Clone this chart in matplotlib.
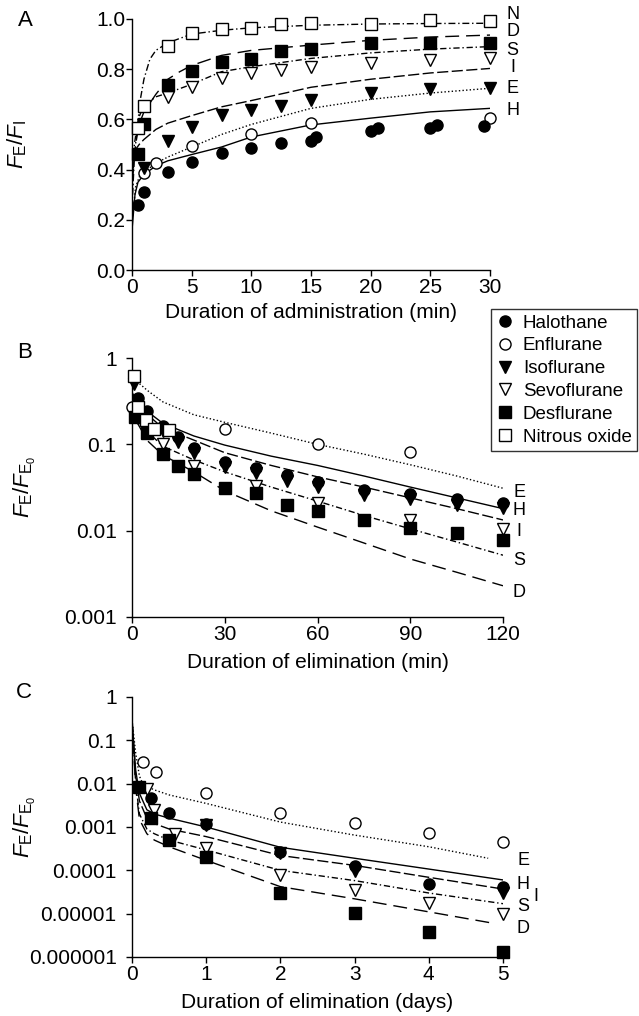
import matplotlib
matplotlib.use('Agg')
import matplotlib.pyplot as plt
from matplotlib.ticker import FixedLocator, FixedFormatter, NullLocator
from matplotlib.lines import Line2D

plt.rcParams['font.family'] = ['Liberation Sans', 'DejaVu Sans']
plt.rcParams['mathtext.fontset'] = 'custom'
plt.rcParams['mathtext.rm'] = 'Liberation Sans'
plt.rcParams['mathtext.it'] = 'Liberation Sans:italic'
plt.rcParams['mathtext.bf'] = 'Liberation Sans:bold'

# ---------------- panel A: uptake (F_E/F_I) ----------------
a_halo_x = [0.5, 1, 3, 5, 7.5, 10, 12.5, 15, 20, 25, 29.5]
a_halo_y = [0.26, 0.31, 0.39, 0.43, 0.465, 0.485, 0.505, 0.515, 0.552, 0.565, 0.574]
a_halo2_x = [15.4, 20.6, 25.6]
a_halo2_y = [0.528, 0.565, 0.578]
a_enf_x = [1, 2, 5, 10, 15, 30]
a_enf_y = [0.388, 0.428, 0.494, 0.54, 0.587, 0.604]
a_iso_x = [1, 3, 5, 7.5, 10, 12.5, 15, 20, 25, 30]
a_iso_y = [0.405, 0.514, 0.568, 0.616, 0.637, 0.653, 0.677, 0.706, 0.72, 0.724]
a_sevo_x = [3, 5, 7.5, 10, 12.5, 15, 20, 25, 30]
a_sevo_y = [0.69, 0.73, 0.763, 0.783, 0.797, 0.81, 0.826, 0.837, 0.843]
a_des_x = [0.5, 1, 3, 5, 7.5, 10, 12.5, 15, 20, 25, 30]
a_des_y = [0.462, 0.58, 0.737, 0.793, 0.83, 0.839, 0.874, 0.879, 0.903, 0.903, 0.903]
a_n2o_x = [0.5, 1, 3, 5, 7.5, 10, 12.5, 15, 20, 25, 30]
a_n2o_y = [0.565, 0.653, 0.892, 0.945, 0.959, 0.966, 0.98, 0.985, 0.982, 0.996, 0.993]

# model curves, panel A
a_fit_H_x = [0.02, 0.25, 0.5, 1, 2, 3, 5, 7.5, 10, 15, 20, 25, 30]
a_fit_H_y = [0.17, 0.3, 0.35, 0.38, 0.415, 0.435, 0.46, 0.49, 0.53, 0.578, 0.605, 0.63, 0.644]
a_fit_E_x = [0.02, 0.3, 0.6, 1, 2, 3, 5, 7.5, 10, 15, 20, 25, 30]
a_fit_E_y = [0.2, 0.33, 0.37, 0.39, 0.425, 0.45, 0.49, 0.54, 0.58, 0.644, 0.68, 0.705, 0.724]
a_fit_I_x = [0.02, 0.1, 0.3, 0.6, 1, 2, 3, 5, 7.5, 10, 15, 20, 25, 30]
a_fit_I_y = [0.35, 0.45, 0.48, 0.5, 0.52, 0.56, 0.585, 0.615, 0.65, 0.675, 0.728, 0.76, 0.785, 0.803]
a_fit_S_x = [0.02, 0.2, 0.5, 1, 2, 3, 5, 7.5, 10, 15, 20, 25, 30]
a_fit_S_y = [0.3, 0.5, 0.6, 0.655, 0.69, 0.705, 0.74, 0.79, 0.81, 0.843, 0.865, 0.88, 0.89]
a_fit_D_x = [0.02, 0.3, 0.6, 1, 2, 3, 4, 5, 7.5, 10, 15, 20, 25, 30]
a_fit_D_y = [0.35, 0.5, 0.58, 0.63, 0.7, 0.76, 0.79, 0.815, 0.855, 0.875, 0.896, 0.915, 0.928, 0.936]
a_fit_N_x = [0.05, 0.2, 0.4, 0.7, 1, 1.5, 2, 3, 5, 7.5, 10, 15, 20, 25, 30]
a_fit_N_y = [0.3, 0.45, 0.55, 0.68, 0.76, 0.84, 0.875, 0.905, 0.94, 0.955, 0.965, 0.975, 0.98, 0.982, 0.983]

# ---------------- panel B: elimination, minutes ----------------
b_halo_x = [2, 5, 10, 15, 20, 30, 40, 50, 60, 75, 90, 105, 120]
b_halo_y = [0.34, 0.245, 0.165, 0.122, 0.091, 0.063, 0.053, 0.044, 0.037, 0.0298, 0.0266, 0.0231, 0.0211]
b_enf_x = [0, 30, 60, 90]
b_enf_y = [0.27, 0.149, 0.101, 0.082]
b_iso_x = [0.5, 10, 15, 20, 30, 40, 50, 60, 75, 90, 105, 120]
b_iso_y = [0.5, 0.143, 0.106, 0.079, 0.055, 0.046, 0.038, 0.032, 0.026, 0.023, 0.020, 0.0183]
b_sevo_x = [2, 5, 10, 20, 40, 60, 90, 120]
b_sevo_y = [0.2, 0.15, 0.1, 0.056, 0.033, 0.021, 0.0133, 0.0104]
b_des_x = [1, 5, 10, 15, 20, 30, 40, 50, 60, 75, 90, 105, 120]
b_des_y = [0.21, 0.134, 0.078, 0.0566, 0.045, 0.031, 0.027, 0.020, 0.0167, 0.0132, 0.0107, 0.0095, 0.0077]
b_n2o_x = [0.5, 2, 4.5, 7, 12]
b_n2o_y = [0.62, 0.27, 0.19, 0.15, 0.145]

b_fit_x = [0, 2, 5, 10, 20, 30, 45, 60, 75, 90, 105, 120]
b_fit_E = [0.62, 0.52, 0.42, 0.31, 0.22, 0.18, 0.135, 0.1, 0.077, 0.058, 0.043, 0.031]
b_fit_H = [0.38, 0.3, 0.24, 0.175, 0.125, 0.098, 0.073, 0.057, 0.043, 0.032, 0.024, 0.018]
b_fit_I = [0.4, 0.3, 0.22, 0.155, 0.112, 0.08, 0.057, 0.042, 0.032, 0.024, 0.018, 0.0133]
b_fit_S = [0.3, 0.2, 0.14, 0.095, 0.066, 0.048, 0.032, 0.022, 0.015, 0.0105, 0.0074, 0.0052]
b_fit_D = [0.3, 0.17, 0.11, 0.075, 0.048, 0.029, 0.017, 0.011, 0.0072, 0.0047, 0.0033, 0.0023]

# ---------------- panel C: elimination, days ----------------
c_halo_x = [0.25, 0.5, 1, 2, 3, 4, 5]
c_halo_y = [0.0046, 0.00214, 0.00117, 0.00027, 0.000126, 0.0000483, 0.0000406]
c_enf_x = [0.15, 0.33, 1, 2, 3, 4, 5]
c_enf_y = [0.032, 0.0189, 0.006, 0.00214, 0.00122, 0.00074, 0.00044]
c_iso_x = [1, 2, 3, 5]
c_iso_y = [0.0011, 0.00025, 0.000095, 0.00003]
c_sevo_x = [0.2, 0.3, 0.58, 1, 2, 3, 4, 5]
c_sevo_y = [0.0074, 0.0025, 0.00068, 0.00033, 0.000078, 0.000036, 0.0000178, 0.00001]
c_des_x = [0.1, 0.25, 0.5, 1, 2, 3, 4, 5]
c_des_y = [0.0085, 0.0016, 0.0005, 0.000206, 0.00003, 0.0000102, 0.0000038, 0.0000013]

c_fit_x = [0, 0.05, 0.1, 0.2, 0.3, 0.5, 1, 2, 3, 4, 5]
c_fit_E_x = [0, 0.05, 0.1, 0.15, 0.3, 0.5, 1, 2, 3, 4, 4.8]
c_fit_E = [0.3, 0.05, 0.015, 0.0095, 0.0072, 0.0055, 0.0035, 0.0013, 0.00065, 0.00035, 0.00019]
c_fit_H = [0.3, 0.02, 0.006, 0.0025, 0.002, 0.0016, 0.001, 0.00034, 0.00019, 0.000107, 0.00006]
c_fit_I = [0.3, 0.015, 0.004, 0.0016, 0.0012, 0.0009, 0.0006, 0.00022, 0.00013, 0.000069, 0.000037]
c_fit_S = [0.3, 0.01, 0.002, 0.0009, 0.0007, 0.0005, 0.000295, 0.0001, 0.000058, 0.00003, 0.000017]
c_fit_D_x = [0, 0.05, 0.1, 0.2, 0.3, 0.5, 1, 2, 3, 4, 4.87]
c_fit_D = [0.3, 0.008, 0.0015, 0.0007, 0.0005, 0.00035, 0.00017, 0.000042, 0.000022, 0.000011, 0.000006]

agent_names = ['Halothane', 'Enflurane', 'Isoflurane', 'Sevoflurane', 'Desflurane', 'Nitrous oxide']
b_ticks = [1, 0.1, 0.01, 0.001]
b_ticklabels = ['1', '0.1', '0.01', '0.001']
c_ticks = [1, 0.1, 0.01, 0.001, 0.0001, 0.00001, 0.000001]
c_ticklabels = ['1', '0.1', '0.01', '0.001', '0.0001', '0.00001', '0.000001']

# ---------------- styles ----------------
ms = 8
sty = {
    'H': dict(marker='o', mfc='black', mec='black'),
    'E': dict(marker='o', mfc='white', mec='black'),
    'I': dict(marker='v', mfc='black', mec='black'),
    'S': dict(marker='v', mfc='white', mec='black'),
    'D': dict(marker='s', mfc='black', mec='black'),
    'N': dict(marker='s', mfc='white', mec='black'),
}
ls = {
    'H': '-',
    'E': (0, (1.0, 1.6)),
    'I': (0, (8, 2.5)),
    'S': (0, (4.5, 2, 1, 2)),
    'D': (0, (10, 5)),
    'N': (0, (5, 2, 1, 2)),
}
TICK_FS = 15
LAB_FS = 15


def pts(ax, x, y, key, z=3):
    ax.plot(x, y, linestyle='none', ms=ms, mew=1, clip_on=False, zorder=z, **sty[key])


def fit(ax, x, y, key):
    ax.plot(x, y, color='black', lw=1.0, linestyle=ls[key], zorder=2)


def style_axes(ax, ypad):
    for s in ['top', 'right']:
        ax.spines[s].set_visible(False)
    for s in ['left', 'bottom']:
        ax.spines[s].set_linewidth(1.0)
    ax.tick_params(direction='out', length=4, width=1, labelsize=TICK_FS)
    ax.tick_params(axis='x', pad=2)
    ax.tick_params(axis='y', pad=ypad)


W, H = 639, 1016
fig = plt.figure(figsize=(W / 100, H / 100), dpi=100)


def frac(l, t, r, b):
    return [l / W, 1 - b / H, (r - l) / W, (b - t) / H]


axA = fig.add_axes(frac(132, 19, 490, 270))
axB = fig.add_axes(frac(132, 358, 503, 617))
axC = fig.add_axes(frac(132, 697, 503, 957))

# ---- A ----
for xx, yy, k in [(a_fit_H_x, a_fit_H_y, 'H'), (a_fit_E_x, a_fit_E_y, 'E'), (a_fit_I_x, a_fit_I_y, 'I'),
                  (a_fit_S_x, a_fit_S_y, 'S'), (a_fit_D_x, a_fit_D_y, 'D'), (a_fit_N_x, a_fit_N_y, 'N')]:
    fit(axA, xx, yy, k)
pts(axA, a_enf_x, a_enf_y, 'E')
pts(axA, a_halo_x, a_halo_y, 'H')
pts(axA, a_halo2_x, a_halo2_y, 'H')
pts(axA, a_iso_x, a_iso_y, 'I')
pts(axA, a_sevo_x, a_sevo_y, 'S')
pts(axA, a_des_x, a_des_y, 'D')
pts(axA, a_n2o_x, a_n2o_y, 'N')
axA.set_xlim(0, 30)
axA.set_ylim(0, 1.0)
axA.set_xticks([0, 5, 10, 15, 20, 25, 30])
axA.set_yticks([0, 0.2, 0.4, 0.6, 0.8, 1.0])
axA.set_yticklabels(['0.0', '0.2', '0.4', '0.6', '0.8', '1.0'])
style_axes(axA, 1)
axA.set_xlabel('Duration of administration (min)', fontsize=LAB_FS, labelpad=4)
axA.set_ylabel(r'$F_\mathrm{E}/F_\mathrm{I}$', fontsize=16)
axA.yaxis.set_label_coords(29 / W, 1 - 144 / H, transform=fig.transFigure)
for lab, yv in zip(['N', 'D', 'S', 'I', 'E', 'H'], [1.016, 0.952, 0.876, 0.805, 0.725, 0.637]):
    axA.text(31.9, yv, lab, ha='center', va='center', fontsize=13)

# ---- B ----
for yy, k in [(b_fit_E, 'E'), (b_fit_H, 'H'), (b_fit_I, 'I'), (b_fit_S, 'S'), (b_fit_D, 'D')]:
    fit(axB, b_fit_x, yy, k)
pts(axB, b_enf_x, b_enf_y, 'E')
pts(axB, b_iso_x, b_iso_y, 'I')
pts(axB, b_halo_x, b_halo_y, 'H')
pts(axB, b_sevo_x, b_sevo_y, 'S')
pts(axB, b_des_x, b_des_y, 'D')
pts(axB, b_n2o_x, b_n2o_y, 'N')
axB.set_yscale('log')
axB.set_xlim(0, 120)
axB.set_ylim(0.001, 1)
axB.set_xticks([0, 30, 60, 90, 120])
axB.yaxis.set_major_locator(FixedLocator(b_ticks))
axB.yaxis.set_major_formatter(FixedFormatter(b_ticklabels))
axB.yaxis.set_minor_locator(NullLocator())
style_axes(axB, 7)
axB.set_xlabel('Duration of elimination (min)', fontsize=LAB_FS, labelpad=6)
axB.set_ylabel(r'$F_\mathrm{E}/F_{\mathrm{E}_0}$', fontsize=16)
axB.yaxis.set_label_coords(38 / W, 1 - 487 / H, transform=fig.transFigure)
for lab, yv in zip(['E', 'H', 'I', 'S', 'D'], [0.028, 0.0173, 0.00966, 0.00457, 0.0019]):
    axB.text(125.2, yv, lab, ha='center', va='center', fontsize=13)

# ---- C ----
fit(axC, c_fit_E_x, c_fit_E, 'E')
fit(axC, c_fit_x, c_fit_H, 'H')
fit(axC, c_fit_x, c_fit_I, 'I')
fit(axC, c_fit_x, c_fit_S, 'S')
fit(axC, c_fit_D_x, c_fit_D, 'D')
pts(axC, c_enf_x, c_enf_y, 'E')
pts(axC, c_iso_x, c_iso_y, 'I')
pts(axC, c_halo_x, c_halo_y, 'H')
pts(axC, c_sevo_x, c_sevo_y, 'S')
pts(axC, c_des_x, c_des_y, 'D')
axC.set_yscale('log')
axC.set_xlim(0, 5)
axC.set_ylim(0.000001, 1)
axC.set_xticks([0, 1, 2, 3, 4, 5])
axC.yaxis.set_major_locator(FixedLocator(c_ticks))
axC.yaxis.set_major_formatter(FixedFormatter(c_ticklabels))
axC.yaxis.set_minor_locator(NullLocator())
style_axes(axC, 7)
axC.set_xlabel('Duration of elimination (days)', fontsize=LAB_FS, labelpad=6)
axC.set_ylabel(r'$F_\mathrm{E}/F_{\mathrm{E}_0}$', fontsize=16)
axC.yaxis.set_label_coords(38 / W, 1 - 827 / H, transform=fig.transFigure)
for lab, xv, yv in zip(['E', 'H', 'I', 'S', 'D'], [5.27, 5.27, 5.44, 5.27, 5.27],
                       [1.73e-4, 4.6e-5, 2.46e-5, 1.46e-5, 4.6e-6]):
    axC.text(xv, yv, lab, ha='center', va='center', fontsize=13)

# panel letters
fig.text(25 / W, 1 - 20 / H, 'A', ha='center', va='center', fontsize=16)
fig.text(25 / W, 1 - 353 / H, 'B', ha='center', va='center', fontsize=16)
fig.text(24 / W, 1 - 692 / H, 'C', ha='center', va='center', fontsize=16)

# legend
handles = [Line2D([], [], linestyle='none', ms=ms, mew=1, **sty[k]) for k in ['H', 'E', 'I', 'S', 'D', 'N']]
leg = fig.legend(handles, agent_names, loc='upper left', bbox_to_anchor=(491 / W, 1 - 309 / H),
                 frameon=True, fancybox=False, edgecolor='black', fontsize=13.5,
                 handlelength=0.9, handletextpad=0.5, labelspacing=0.3, borderpad=0.3,
                 borderaxespad=0)
leg.get_frame().set_linewidth(1.0)

fig.savefig('out.png', dpi=100)
